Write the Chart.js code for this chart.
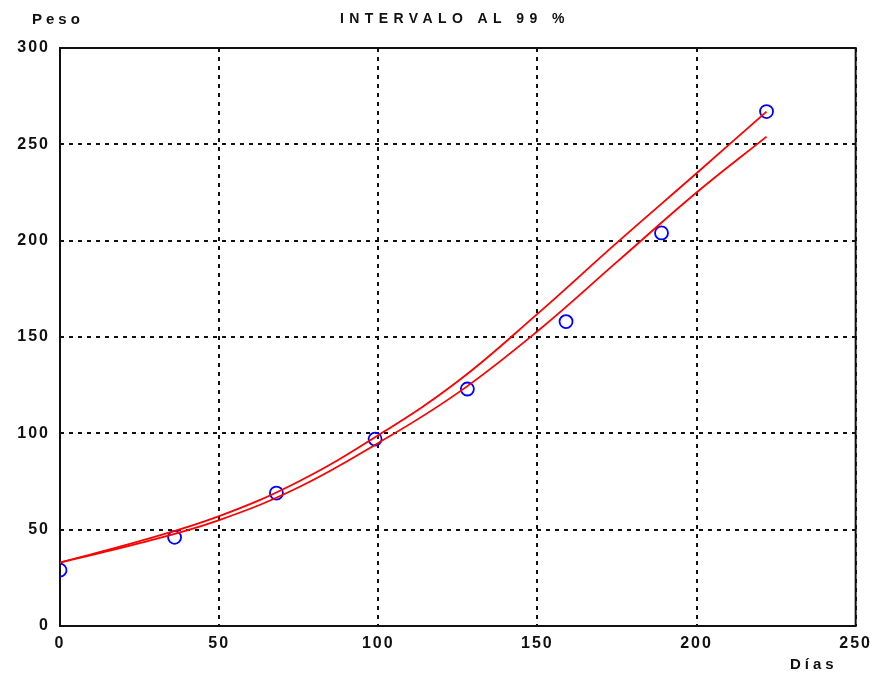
<!DOCTYPE html>
<html>
<head>
<meta charset="utf-8">
<script src="https://cdn.jsdelivr.net/npm/chart.js@4.4.1/dist/chart.umd.min.js"></script>
<style>
  html, body { margin: 0; padding: 0; background: #fff; }
  canvas { display: block; }
</style>
</head>
<body>
<canvas id="grafico" width="877" height="674"></canvas>
<script>
// observaciones
const dias = [0, 36, 68, 99, 128, 159, 189, 222];
const peso = [29, 46, 69, 97, 123, 158, 204, 267];

// limites del intervalo al 99 %
const curvaDias = [0, 25, 50, 75, 100, 125, 150, 175, 200, 222];
const limiteSuperior = [33, 44, 57, 75, 99, 127, 162, 199, 235, 267];
const limiteInferior = [33, 43, 55, 72, 95, 121, 153, 189, 225, 254];

const ticksX = [0, 50, 100, 150, 200, 250];
const ticksY = [0, 50, 100, 150, 200, 250, 300];

const toXY = (xs, ys) => xs.map((x, i) => ({ x: x, y: ys[i] }));

const fuente = { family: 'Arial, "Liberation Sans", sans-serif', size: 16, weight: 'bold' };

const textos = {
    id: 'textos',
    beforeDraw(chart) {
        chart.ctx.letterSpacing = '2px';
    },
    beforeDatasetsDraw(chart) {
        const { ctx, chartArea: a } = chart;
        ctx.save();
        ctx.strokeStyle = '#111';
        ctx.lineWidth = 2;
        ctx.strokeRect(a.left, a.top, a.right - a.left, a.bottom - a.top);
        ctx.restore();
    },
    afterDraw(chart) {
        const ctx = chart.ctx;
        ctx.save();
        ctx.fillStyle = '#111';
        ctx.textBaseline = 'middle';
        ctx.letterSpacing = '4px';
        ctx.font = 'bold 15px Arial, "Liberation Sans", sans-serif';
        ctx.textAlign = 'left';
        ctx.fillText('Peso', 32, 20);
        ctx.fillText('Días', 790, 665);
        ctx.letterSpacing = '5.4px';
        ctx.font = 'bold 14px Arial, "Liberation Sans", sans-serif';
        ctx.fillText('INTERVALO AL 99 %', 340, 19);
        ctx.restore();
    }
};

new Chart(document.getElementById('grafico'), {
    type: 'scatter',
    data: {
        datasets: [
            {
                label: 'Limite superior',
                type: 'line',
                data: toXY(curvaDias, limiteSuperior),
                borderColor: '#ff0000',
                borderWidth: 1.8,
                pointRadius: 0,
                tension: 0.4,
                fill: false
            },
            {
                label: 'Limite inferior',
                type: 'line',
                data: toXY(curvaDias, limiteInferior),
                borderColor: '#ff0000',
                borderWidth: 1.8,
                pointRadius: 0,
                tension: 0.4,
                fill: false
            },
            {
                label: 'Peso',
                data: toXY(dias, peso),
                pointStyle: 'circle',
                pointRadius: 6.5,
                borderColor: '#0000ff',
                backgroundColor: 'rgba(0,0,0,0)',
                borderWidth: 1.8
            }
        ]
    },
    options: {
        responsive: false,
        animation: false,
        layout: { padding: { top: 48, right: 20, left: 0, bottom: 0 } },
        plugins: {
            legend: { display: false },
            title: { display: false },
            tooltip: { enabled: false }
        },
        scales: {
            x: {
                type: 'linear',
                min: 0,
                max: 250,
                afterBuildTicks: (axis) => { axis.ticks = ticksX.map(v => ({ value: v })); },
                afterFit: (axis) => { axis.height = 48; },
                ticks: { color: '#111', font: fuente, padding: 8 },
                grid: {
                    color: '#111',
                    lineWidth: 2,
                    drawTicks: false
                },
                border: { display: false, dash: [4, 5] }
            },
            y: {
                type: 'linear',
                min: 0,
                max: 300,
                afterBuildTicks: (axis) => { axis.ticks = ticksY.map(v => ({ value: v })); },
                afterFit: (axis) => { axis.width = 60; },
                ticks: { color: '#111', font: fuente, padding: 10 },
                grid: {
                    color: '#111',
                    lineWidth: 2,
                    drawTicks: false
                },
                border: { display: false, dash: [4, 5] }
            }
        }
    },
    plugins: [textos]
});
</script>
</body>
</html>
